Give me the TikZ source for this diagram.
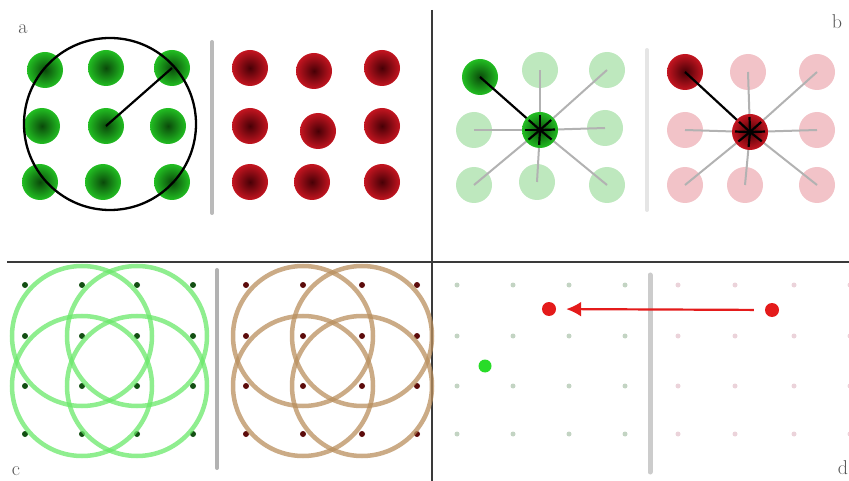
\documentclass[tikz,border=0pt]{standalone}
\usetikzlibrary{calc,arrows.meta}
\definecolor{blobgreen}{HTML}{22BE22}
\definecolor{blobgreendark}{HTML}{0A4A0A}
\definecolor{blobred}{HTML}{C41520}
\definecolor{blobreddark}{HTML}{480006}
\definecolor{palegreen}{HTML}{BEE8BE}
\definecolor{palered}{HTML}{F2C3C8}
\definecolor{ringgreen}{HTML}{6AE86A}
\definecolor{ringbrown}{HTML}{B98F5E}
\definecolor{dotgreen}{HTML}{134F13}
\definecolor{dotred}{HTML}{5C0B0B}
\definecolor{fadegreen}{HTML}{C3D4C3}
\definecolor{fadered}{HTML}{EBD3DA}
\definecolor{hotred}{HTML}{E41B1B}
\definecolor{hotgreen}{HTML}{28DC28}
\definecolor{framegray}{HTML}{3A3A3A}
\definecolor{labelgray}{HTML}{555555}

\begin{document}
\begin{tikzpicture}[x=1pt, y=-1pt,
         blob/.style={circle, minimum size=36pt, inner sep=0pt},
         gblob/.style={blob, inner color=blobgreendark, outer color=blobgreen},
         rblob/.style={blob, inner color=blobreddark, outer color=blobred},
         gpale/.style={blob, fill=palegreen},
         rpale/.style={blob, fill=palered},
         smalldot/.style={circle, minimum size=6pt, inner sep=0pt},
         gdot/.style={smalldot, fill=dotgreen},
         rdot/.style={smalldot, fill=dotred},
         gfade/.style={smalldot, minimum size=5pt, fill=fadegreen},
         rfade/.style={smalldot, minimum size=5pt, fill=fadered},
         bigdot/.style={circle, minimum size=14pt, inner sep=0pt},
         divider/.style={line width=4pt, line cap=round},
         panel line/.style={line width=2.8pt, framegray},
         spoke/.style={line width=2pt, black!30},
         spoke dark/.style={line width=2.2pt, black},
         gring/.style={line width=4.5pt, ringgreen, draw opacity=0.75},
         bring/.style={line width=4.5pt, ringbrown, draw opacity=0.75},
         arrow/.style={-{Latex[length=15pt,width=15pt]}, line width=2.2pt, hotred},
         panel name/.style={font=\fontsize{20}{24}\selectfont, text=labelgray, inner sep=0pt}
      ]
   \useasboundingbox (0,0) rectangle (849,481);

   \draw[panel line] (432,10) -- (432,481);
   \draw[panel line] (7,262) -- (849,262);

   \node[panel name] (lbla) at (23,29) {a};
   \node[panel name] (lblb) at (837,22) {b};
   \node[panel name] (lblc) at (16,471) {c};
   \node[panel name] (lbld) at (843,468) {d};

   % a
   \foreach \n/\x/\y in {11/45/70, 12/106/68, 13/172/68, 21/42/126, 22/106/126,
                         23/168/126, 31/40/182, 32/103/182, 33/172/182}
      \node[gblob] (ga\n) at (\x,\y) {};
   \foreach \n/\x/\y in {11/250/68, 12/314/71, 13/382/68, 21/250/126, 22/318/131,
                         23/382/126, 31/250/182, 32/312/182, 33/382/182}
      \node[rblob] (ra\n) at (\x,\y) {};
   \draw[line width=2.3pt] (110,124) circle (86pt);
   \draw[spoke dark] (ga22.center) -- (ga13.center);
   \draw[divider, black!27] (212,42) -- (212,213);

   % b
   \node[gblob] (gb11) at (480,77) {};
   \foreach \n/\x/\y in {12/540/70, 13/607/70, 21/474/130, 23/605/128,
                         31/474/185, 32/537/182, 33/607/185}
      \node[gpale] (gb\n) at (\x,\y) {};
   \coordinate (gbc) at (540,130);
   \foreach \n in {12,13,21,23,31,32,33}
      \draw[spoke] (gbc) -- (gb\n.center);
   \draw[spoke dark] (gbc) -- (gb11.center);
   \node[gblob] (gb22) at (gbc) {};
   \foreach \n in {11,12,13,21,23,31,32,33}
      \draw[spoke dark] (gb22.center) -- ($(gb22.center)!15pt!(gb\n.center)$);

   \node[rblob] (rb11) at (685,72) {};
   \foreach \n/\x/\y in {12/748/72, 13/817/72, 21/685/130, 23/817/130,
                         31/685/185, 32/745/185, 33/817/185}
      \node[rpale] (rb\n) at (\x,\y) {};
   \coordinate (rbc) at (750,132);
   \foreach \n in {12,13,21,23,31,32,33}
      \draw[spoke] (rbc) -- (rb\n.center);
   \draw[spoke dark] (rbc) -- (rb11.center);
   \node[rblob] (rb22) at (rbc) {};
   \foreach \n in {11,12,13,21,23,31,32,33}
      \draw[spoke dark] (rb22.center) -- ($(rb22.center)!15pt!(rb\n.center)$);
   \draw[divider, black!10] (647,50) -- (647,210);

   % c
   \foreach \x [count=\i] in {25,82,137,193}
      \foreach \y [count=\j] in {285,336,386,434}
         \node[gdot] (gc\i\j) at (\x,\y) {};
   \foreach \x [count=\i] in {246,303,362,417}
      \foreach \y [count=\j] in {285,336,386,434}
         \node[rdot] (rc\i\j) at (\x,\y) {};
   \foreach \n in {22,32,23,33} {
      \draw[gring] (gc\n) circle (70pt);
      \draw[bring] (rc\n) circle (70pt);
   }
   \draw[divider, black!30] (217,270) -- (217,468);

   % d
   \foreach \x [count=\i] in {457,513,569,625}
      \foreach \y [count=\j] in {285,336,386,434}
         \node[gfade] (gd\i\j) at (\x,\y) {};
   \foreach \x [count=\i] in {678,735,794,850}
      \foreach \y [count=\j] in {285,336,386,434}
         \node[rfade] (rd\i\j) at (\x,\y) {};
   \draw[divider, line width=5pt, black!20] (650,275) -- (650,472);
   \node[bigdot, fill=hotred] (target) at (549,309) {};
   \node[bigdot, fill=hotred] (source) at (772,310) {};
   \node[bigdot, minimum size=13pt, fill=hotgreen] (self) at (485,366) {};
   \draw[arrow, shorten <=11pt, shorten >=10pt] (source) -- (target);
\end{tikzpicture}
\end{document}
